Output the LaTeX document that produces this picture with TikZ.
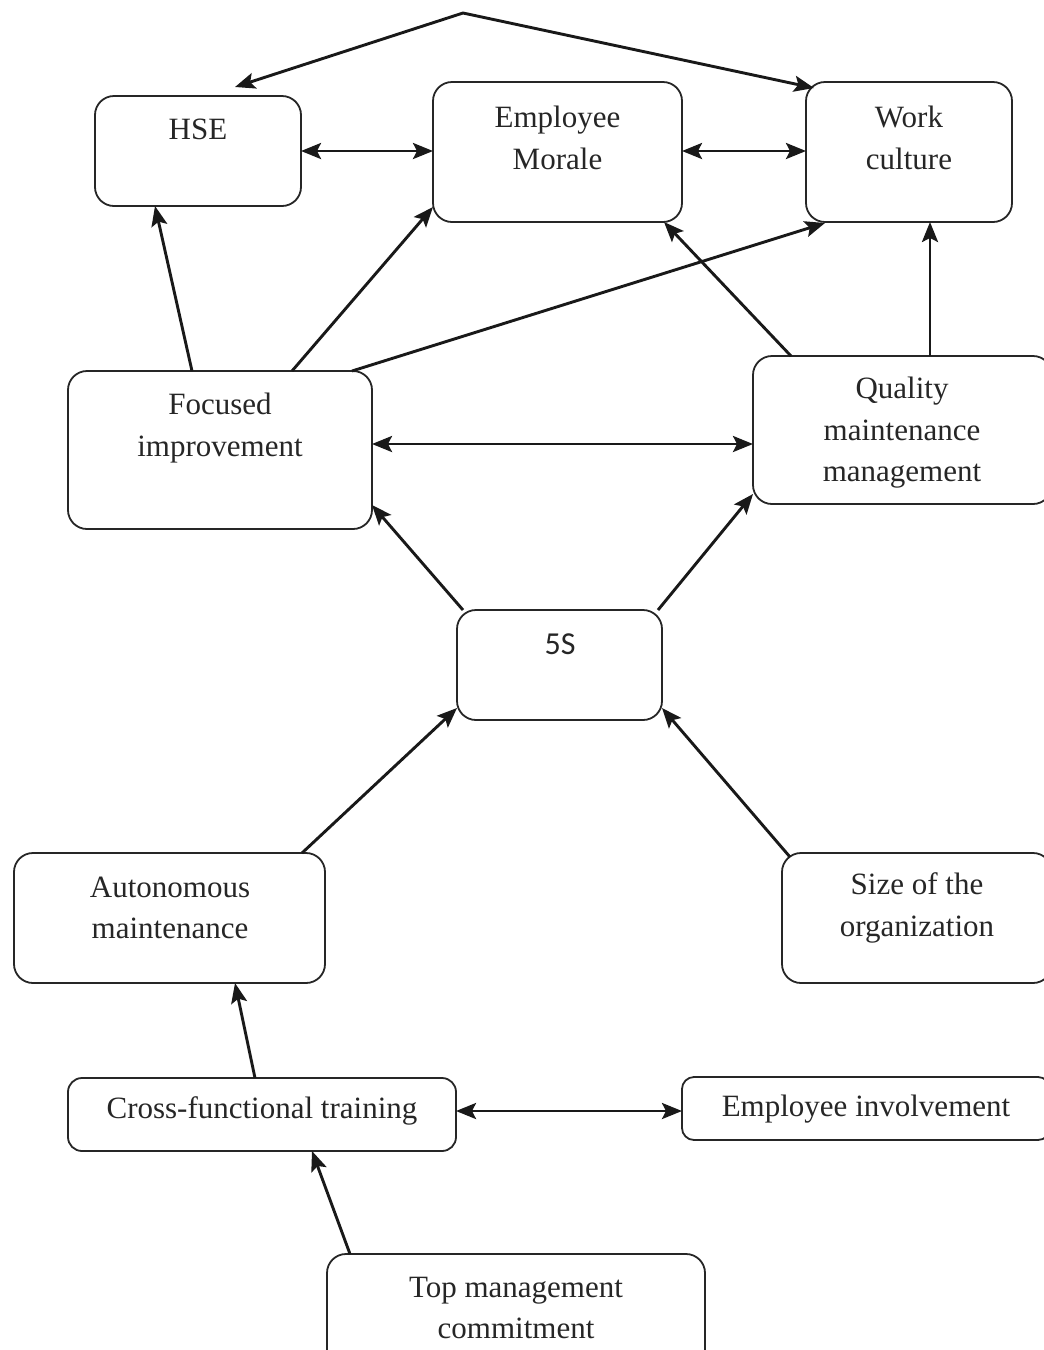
\documentclass[tikz,border=0pt]{standalone}
\usepackage{fontspec}
\setmainfont{Liberation Serif}
\newfontfamily\fivesfont{Carlito}
\usetikzlibrary{arrows.meta}
\begin{document}
\begin{tikzpicture}[x=1pt,y=-1pt,
  box/.style={draw=black!85, rounded corners=19pt, line width=1.8pt, inner sep=0pt, outer sep=0pt},
  txt/.style={font=\fontsize{31}{41.5}\selectfont, align=center, inner sep=0pt, text=black!85},
  arr/.style={-{Stealth[length=20pt,width=16pt,inset=4pt]}, line width=2.9pt, black!90},
  dbl/.style={{Stealth[length=20pt,width=16pt,inset=4pt]}-{Stealth[length=20pt,width=16pt,inset=4pt]}, line width=2.9pt, black!90}]
\useasboundingbox (0,0) rectangle (1044,1350);
\clip (0,0) rectangle (1044,1350);
% boxes
\node[box, minimum width=206pt, minimum height=110pt] (hse) at (198,151) {};
\node[box, minimum width=249pt, minimum height=140pt] (em) at (557.5,152) {};
\node[box, minimum width=206pt, minimum height=140pt] (wc) at (909,152) {};
\node[box, minimum width=304pt, minimum height=158pt] (fi) at (220,450) {};
\node[box, minimum width=299pt, minimum height=148pt] (qmm) at (902.5,430) {};
\node[box, minimum width=205pt, minimum height=110pt] (fives) at (559.5,665) {};
\node[box, minimum width=311pt, minimum height=130pt] (am) at (169.5,918) {};
\node[box, minimum width=270pt, minimum height=130pt] (size) at (917,918) {};
\node[box, minimum width=388pt, minimum height=73pt, rounded corners=14pt] (cft) at (262,1114.5) {};
\node[box, minimum width=368pt, minimum height=63pt, rounded corners=12pt] (ei) at (866,1108.5) {};
\node[box, minimum width=378pt, minimum height=130pt] (tmc) at (516,1319) {};
% texts
\node[txt] (hset) at (198,129) {HSE};
\node[txt] (emt) at (557.5,138) {Employee\\Morale};
\node[txt] (wct) at (909,138) {Work\\culture};
\node[txt] (fit) at (220,428) {Focused\\improvement};
\node[txt] (qmmt) at (902,433) {Quality\\maintenance\\management};
\node[txt, font=\fivesfont\fontsize{32}{36}\selectfont] (fivest) at (560,644) {5S};
\node[txt] (amt) at (170,908) {Autonomous\\maintenance};
\node[txt] (sizet) at (917,908) {Size of the\\organization};
\node[txt] (cftt) at (262,1111) {Cross-functional training};
\node[txt] (eit) at (866,1109) {Employee involvement};
\node[txt] (tmct) at (516,1308) {Top management\\commitment};
% top connector
\coordinate (apex) at (463,13);
\coordinate (hsetip) at (235,87);
\coordinate (wctip) at (814,88);
\draw[dbl, line join=miter] (hsetip) -- (apex) -- (wctip);
% double arrows
\draw[dbl] (hse.east |- 0,151) -- (em.west |- 0,151);
\draw[dbl] (em.east |- 0,151) -- (wc.west |- 0,151);
\draw[dbl] (fi.east |- 0,444) -- (qmm.west |- 0,444);
\draw[dbl] (cft.east |- 0,1111) -- (ei.west |- 0,1111);
% single arrows
\draw[arr] (fi.north -| 192,0) -- (hse.south -| 155,0);
\draw[arr] (fi.north -| 292,0) -- (em.west |- 0,207);
\draw[arr] (fi.north -| 352,0) -- (825,223);
\draw[arr] (qmm.north -| 791,0) -- (em.south -| 664,0);
\draw[arr] (qmm.north -| 930,0) -- (wc.south -| 930,0);
\draw[arr] (fives.north -| 463,0) -- (fi.east |- 0,505);
\draw[arr] (fives.north -| 658,0) -- (qmm.west |- 0,494);
\draw[arr] (am.north -| 302,0) -- (fives.west |- 0,708);
\draw[arr] (790,857) -- (fives.east |- 0,708);
\draw[arr] (cft.north -| 255,0) -- (am.south -| 235,0);
\draw[arr] (tmc.north -| 350,0) -- (cft.south -| 312,0);
\end{tikzpicture}
\end{document}
